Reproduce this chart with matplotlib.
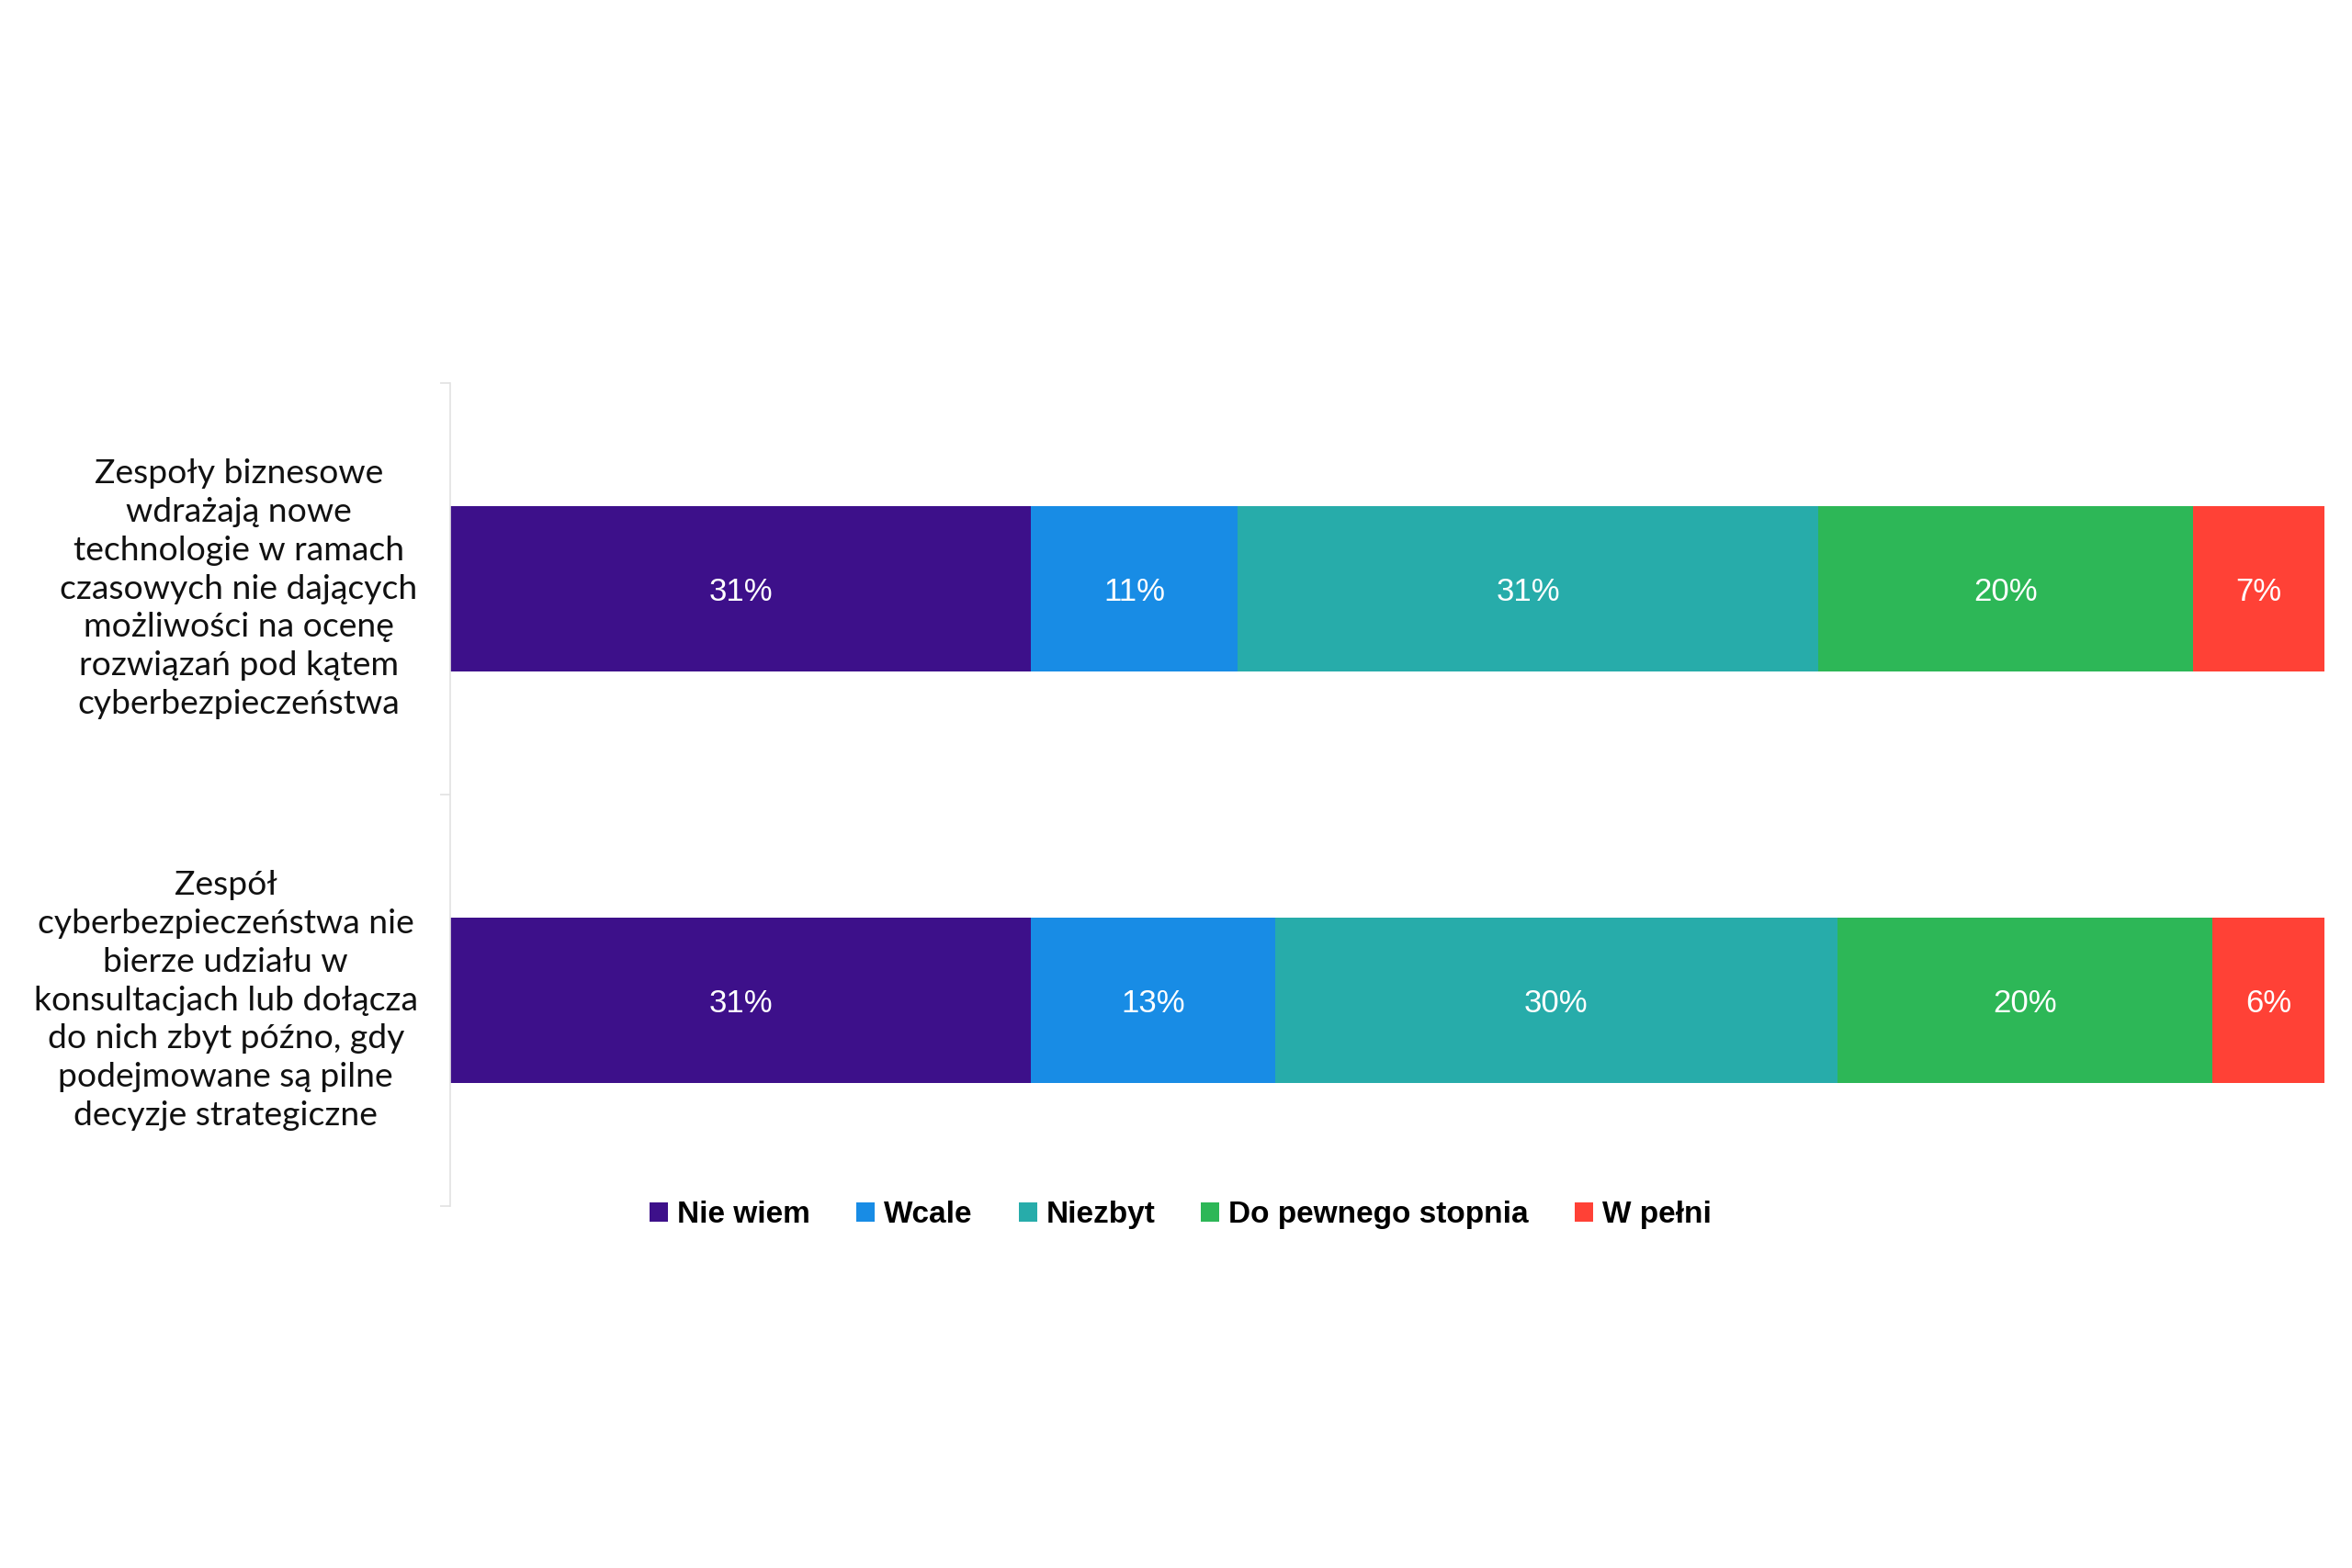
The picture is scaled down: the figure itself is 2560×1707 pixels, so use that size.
import matplotlib.pyplot as plt
from matplotlib.transforms import blended_transform_factory

# data
categories = [
    "Zespoły biznesowe\nwdrażają nowe\ntechnologie w ramach\nczasowych nie dających\nmożliwości na ocenę\nrozwiązań pod kątem\ncyberbezpieczeństwa",
    "Zespół\ncyberbezpieczeństwa nie\nbierze udziału w\nkonsultacjach lub dołącza\ndo nich zbyt późno, gdy\npodejmowane są pilne\ndecyzje strategiczne",
]
series_names = ["Nie wiem", "Wcale", "Niezbyt", "Do pewnego stopnia", "W pełni"]
nie_wiem = [31, 31]
wcale = [11, 13]
niezbyt = [31, 30]
do_pewnego = [20, 20]
w_pelni = [7, 6]
colors = ["#3D108A", "#188CE5", "#27ACAA", "#2DB757", "#FF4136"]

values = [nie_wiem, wcale, niezbyt, do_pewnego, w_pelni]

fig = plt.figure(figsize=(12.8, 8.535), dpi=200)
ax = fig.add_axes([0.1914, 0.2308, 0.7969, 0.5249])

ypos = [1, 0]  # first category on top
left = [0, 0]
for name, vals, col in zip(series_names, values, colors):
    ax.barh(ypos, vals, left=left, height=0.4, color=col, label=name)
    for y, v, l in zip(ypos, vals, left):
        ax.text(l + v / 2, y, f"{v}%", ha="center", va="center_baseline", color="white",
                fontsize=12.5, family=["Liberation Sans", "DejaVu Sans"])
    left = [a + b for a, b in zip(left, vals)]

ax.set_xlim(0, 100)
ax.set_ylim(-0.5, 1.5)

# category labels centred in the left margin (second one sits a bit further left)
trans = blended_transform_factory(fig.transFigure, ax.transData)
label_x = [0.1016, 0.0960]
for y, lab, lx in zip(ypos, categories, label_x):
    ax.text(lx, y, lab, transform=trans, ha="center", va="center",
            multialignment="center", fontsize=13.4, linespacing=1.33,
            family=["Lato", "DejaVu Sans"], color="#111111")

for s in ["top", "right", "bottom"]:
    ax.spines[s].set_visible(False)
ax.spines["left"].set_color("#e2e2e2")
ax.spines["left"].set_linewidth(0.6)
ax.set_xticks([])
ax.set_yticks([-0.5, 0.5, 1.5])
ax.set_yticklabels([])
ax.tick_params(axis="y", length=4, color="#e2e2e2", width=0.6)

leg = fig.legend(loc="center", bbox_to_anchor=(0.502, 0.225), ncol=5, frameon=False,
                 handlelength=0.6, handleheight=0.6, handletextpad=0.3, columnspacing=1.5,
                 prop={"family": ["Liberation Sans", "DejaVu Sans"], "weight": "bold", "size": 12})

fig.savefig("out.png", dpi=200, facecolor="white")
